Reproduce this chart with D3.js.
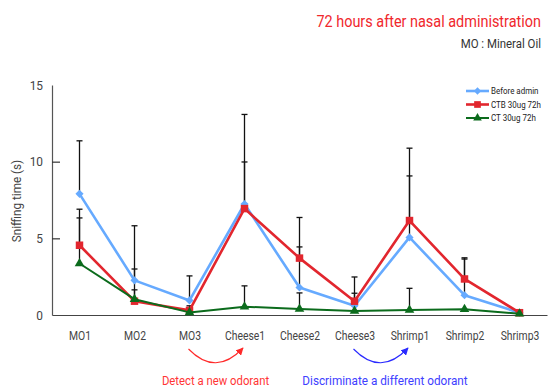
<!DOCTYPE html>
<html>
<head>
<meta charset="utf-8">
<script src="https://cdn.jsdelivr.net/npm/d3@7/dist/d3.min.js"></script>
<style>
  html, body { margin: 0; padding: 0; background: #fff; }
  svg { display: block; }
  text { font-family: "Roboto", "Liberation Sans", sans-serif; }
</style>
</head>
<body>
<div id="chart"></div>
<script>
// Odour habituation / dishabituation test, sniffing time per trial
const categories = ["MO1", "MO2", "MO3", "Cheese1", "Cheese2", "Cheese3", "Shrimp1", "Shrimp2", "Shrimp3"];
const seriesNames = ["Before admin", "CTB 30ug 72h", "CT 30ug 72h"];

const beforeMean = [7.9, 2.26, 0.95, 7.24, 1.79, 0.6, 5.06, 1.29, 0.15];
const beforeErr  = [3.46, 3.56, 1.6, 5.84, 2.65, 0.82, 4.01, 2.36, 0];
const ctbMean    = [4.55, 0.9, 0.3, 6.94, 3.71, 0.9, 6.16, 2.35, 0.15];
const ctbErr     = [2.35, 2.1, 0.3, 3.04, 2.65, 1.58, 4.72, 1.38, 0];
const ctMean     = [3.36, 1.03, 0.17, 0.54, 0.39, 0.26, 0.32, 0.37, 0.08];
const ctErr      = [2.97, 0.61, 0, 1.36, 1.05, 0, 1.42, 0, 0];

const yTicks = [0, 5, 10, 15];

const W = 548, H = 389;
const svg = d3.select("#chart").append("svg").attr("width", W).attr("height", H);

const x = d3.scalePoint().domain(categories).range([52, 547]).padding(0.5);
const y = d3.scaleLinear().domain([0, 15]).range([315, 85]);

const series = [
  { name: seriesNames[0], mean: beforeMean, err: beforeErr, color: "#66aaff", width: 2.6, symbol: d3.symbolDiamond2, size: 42 },
  { name: seriesNames[1], mean: ctbMean,    err: ctbErr,    color: "#e2262e", width: 2.6, symbol: d3.symbolSquare,   size: 56 },
  { name: seriesNames[2], mean: ctMean,     err: ctErr,     color: "#0b6b1c", width: 2.0, symbol: d3.symbolTriangle, size: 40 }
];

// Narrow-set text: horizontal squeeze applied around the anchor point
function narrowText(g, px, py, str, opts) {
  return g.append("text")
    .attr("transform", `translate(${px},${py}) ${opts.rotate ? `rotate(${opts.rotate})` : ""} scale(${opts.sx || 0.85},1)`)
    .attr("text-anchor", opts.anchor || "start")
    .attr("font-size", opts.size)
    .attr("fill", opts.fill)
    .text(str);
}

// Titles
narrowText(svg, 541, 27, "72 hours after nasal administration", { anchor: "end", size: 17, fill: "#f0282d", sx: 0.85 });
narrowText(svg, 541, 48, "MO : Mineral Oil", { anchor: "end", size: 13, fill: "#333", sx: 0.88 });

// Y axis
const yAxis = d3.axisLeft(y).tickValues(yTicks).tickSize(-8).tickSizeOuter(0).tickPadding(0);
const gy = svg.append("g").attr("transform", "translate(52,0)").call(yAxis);
gy.select(".domain").attr("stroke", "#555").attr("stroke-width", 1.2);
gy.selectAll(".tick line").attr("stroke", "#333").attr("stroke-width", 1.2)
  .filter(d => d === 0 || d === 15).remove();
gy.selectAll(".tick text").attr("font-size", 13.5).attr("fill", "#444")
  .attr("x", 0).attr("transform", "translate(-9,0) scale(0.88,1)");

narrowText(svg, 21, 201, "Sniffing time (s)", { anchor: "middle", size: 13, fill: "#444", rotate: -90, sx: 0.9 });

// X axis
const xAxis = d3.axisBottom(x).tickSize(0).tickSizeOuter(0).tickPadding(16);
const gx = svg.append("g").attr("transform", "translate(0,315)").call(xAxis);
gx.select(".domain").attr("stroke", "#444").attr("stroke-width", 1.2);
gx.selectAll(".tick text").attr("font-size", 12.5).attr("fill", "#444")
  .attr("transform", "scale(0.83,1)");

// Error bars (upper half only)
const eg = svg.append("g");
series.forEach(s => {
  categories.forEach((c, i) => {
    if (!s.err[i]) return;
    const cx = x(c), y0 = y(s.mean[i]), y1 = y(s.mean[i] + s.err[i]);
    eg.append("line").attr("x1", cx).attr("x2", cx).attr("y1", y0).attr("y2", y1)
      .attr("stroke", "#111").attr("stroke-width", 1.3);
    eg.append("line").attr("x1", cx - 3).attr("x2", cx + 3).attr("y1", y1).attr("y2", y1)
      .attr("stroke", "#111").attr("stroke-width", 1.3);
  });
});

// Lines and markers
const line = d3.line().x((d, i) => x(categories[i])).y(d => y(d));
series.forEach(s => {
  svg.append("path").datum(s.mean).attr("d", line)
    .attr("fill", "none").attr("stroke", s.color).attr("stroke-width", s.width)
    .attr("stroke-linejoin", "round");
  svg.append("g").selectAll("path").data(s.mean).join("path")
    .attr("transform", (d, i) => `translate(${x(categories[i])},${y(d)})`)
    .attr("d", d3.symbol().type(s.symbol).size(s.size))
    .attr("fill", s.color);
});

// Legend
const lg = svg.append("g");
series.forEach((s, i) => {
  const ly = 91 + i * 13.5;
  lg.append("line").attr("x1", 466).attr("x2", 489).attr("y1", ly).attr("y2", ly)
    .attr("stroke", s.color).attr("stroke-width", s.width);
  lg.append("path").attr("transform", `translate(477.5,${ly})`)
    .attr("d", d3.symbol().type(s.symbol).size(s.size * 0.8)).attr("fill", s.color);
  narrowText(lg, 491, ly + 3.3, s.name, { size: 9.5, fill: "#222", sx: 0.84 });
});

// Annotation arrows
const defs = svg.append("defs");
[["arRed", "#ff2a2a"], ["arBlue", "#2a2aff"]].forEach(([id, col]) => {
  defs.append("marker").attr("id", id).attr("viewBox", "0 0 10 10").attr("refX", 9).attr("refY", 5)
    .attr("markerWidth", 7).attr("markerHeight", 7).attr("orient", "auto")
    .append("path").attr("d", "M0,0 L10,5 L0,10 Z").attr("fill", col);
});

function arc(fromCat, toCat, col, id) {
  const x0 = x(fromCat) - 1, x1 = x(toCat) - 1.5, yTop = 349, mid = (x0 + x1) / 2;
  svg.append("path")
    .attr("d", `M${x0},${yTop} Q${mid},${yTop + 28} ${x1},${yTop - 1}`)
    .attr("fill", "none").attr("stroke", col).attr("stroke-width", 1.1)
    .attr("marker-end", `url(#${id})`);
}
arc("MO3", "Cheese1", "#ff2a2a", "arRed");
arc("Cheese3", "Shrimp1", "#2a2aff", "arBlue");

narrowText(svg, 215.5, 385, "Detect a new odorant", { anchor: "middle", size: 13.5, fill: "#ff3535", sx: 0.84 });
narrowText(svg, 385, 385, "Discriminate a different odorant", { anchor: "middle", size: 13.5, fill: "#4040ff", sx: 0.87 });
</script>
</body>
</html>
